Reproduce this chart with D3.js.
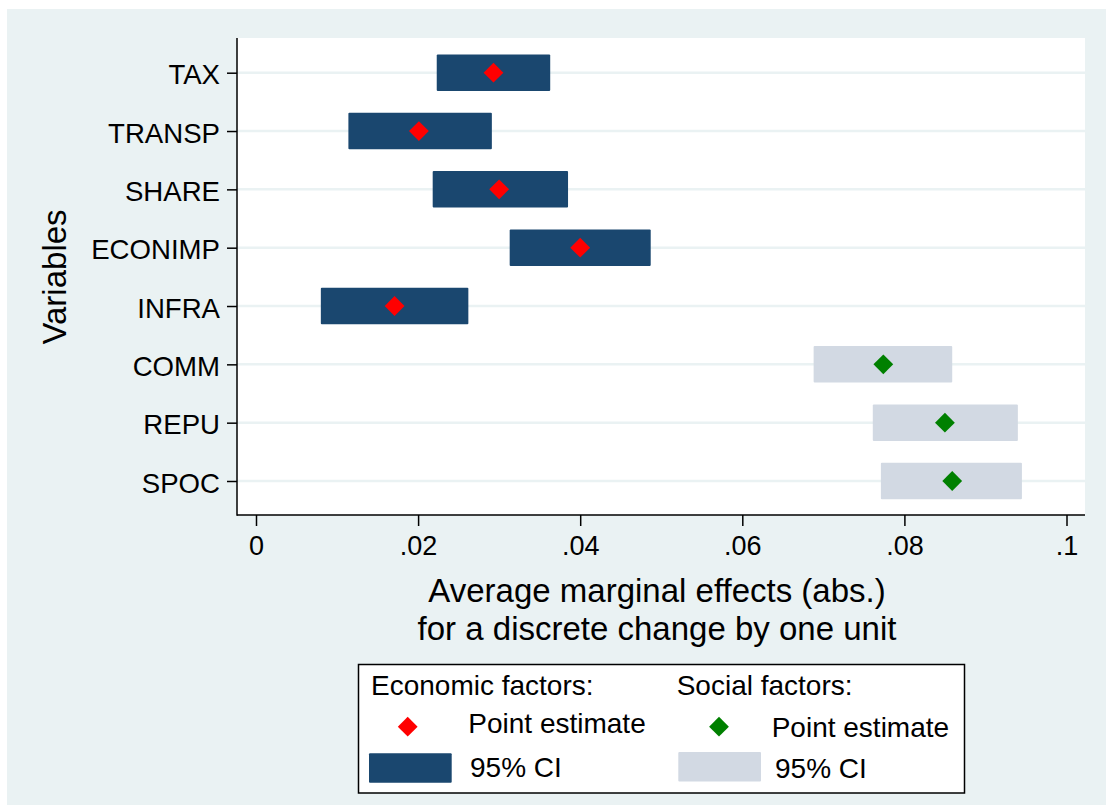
<!DOCTYPE html>
<html>
<head>
<meta charset="utf-8">
<script src="https://cdn.jsdelivr.net/npm/d3@7"></script>
<style>
  body { margin: 0; background: #fff; }
  svg text { font-family: "Liberation Sans", Arial, sans-serif; fill: #000; }
</style>
</head>
<body>
<div id="chart"></div>
<script>
// variables, top to bottom
const categories = ['TAX', 'TRANSP', 'SHARE', 'ECONIMP', 'INFRA', 'COMM', 'REPU', 'SPOC'];
const groups = ['econ', 'econ', 'econ', 'econ', 'econ', 'social', 'social', 'social'];
const estimates = [0.0293, 0.0201, 0.0300, 0.0400, 0.0171, 0.0774, 0.0850, 0.0859];
const ciLow = [0.0223, 0.0114, 0.0218, 0.0313, 0.0080, 0.0688, 0.0761, 0.0771];
const ciHigh = [0.0363, 0.0291, 0.0385, 0.0487, 0.0262, 0.0859, 0.0940, 0.0945];
const xTicks = [0, 0.02, 0.04, 0.06, 0.08, 0.1];
const xTickLabels = ['0', '.02', '.04', '.06', '.08', '.1'];
const xTitle = ['Average marginal effects (abs.)', 'for a discrete change by one unit'];

const bgColor = '#eaf2f3',
    gridColor = '#eaf2f3',
    econBar = '#1a476f',
    socialBar = '#d2d9e3',
    econPoint = '#ff0000',
    socialPoint = '#008000';

const width = 1106, height = 805;
const plot = { left: 237, right: 1085, top: 38, bottom: 515 };

const svg = d3.select('#chart').append('svg')
    .attr('width', width)
    .attr('height', height);

// outer background
svg.append('rect')
    .attr('x', 7).attr('y', 9)
    .attr('width', width - 7).attr('height', height - 9)
    .attr('fill', bgColor);

// plot region
svg.append('rect')
    .attr('x', plot.left).attr('y', plot.top)
    .attr('width', plot.right - plot.left).attr('height', plot.bottom - plot.top)
    .attr('fill', '#fff');

const x = d3.scaleLinear().domain([0, 0.1]).range([256, 1066.5]);
const y = d3.scalePoint().domain(categories).range([72.7, 481]);

const rows = categories.map((c, i) => ({
    name: c, group: groups[i], est: estimates[i], lo: ciLow[i], hi: ciHigh[i]
}));

// gridlines
svg.append('g').selectAll('line')
    .data(categories)
    .enter().append('line')
    .attr('x1', plot.left).attr('x2', plot.right)
    .attr('y1', d => y(d)).attr('y2', d => y(d))
    .attr('stroke', gridColor)
    .attr('stroke-width', 2.5);

const barH = 36.5;
const diamond = d3.symbol().type(d3.symbolDiamond2).size(250);

// CI bars
svg.append('g').selectAll('rect')
    .data(rows)
    .enter().append('rect')
    .attr('x', d => x(d.lo))
    .attr('y', d => y(d.name) - barH / 2)
    .attr('width', d => x(d.hi) - x(d.lo))
    .attr('height', barH)
    .attr('rx', 1)
    .attr('fill', d => d.group === 'econ' ? econBar : socialBar);

// point estimates
svg.append('g').selectAll('path')
    .data(rows)
    .enter().append('path')
    .attr('d', diamond)
    .attr('transform', d => 'translate(' + x(d.est) + ',' + y(d.name) + ')')
    .attr('fill', d => d.group === 'econ' ? econPoint : socialPoint);

// y axis
const yAxis = svg.append('g')
    .attr('transform', 'translate(' + plot.left + ',0)')
    .call(d3.axisLeft(y).tickSize(10).tickSizeOuter(0).tickPadding(7));
yAxis.select('.domain').remove();
yAxis.selectAll('line').attr('stroke', '#000').attr('stroke-width', 1.5);
yAxis.selectAll('text')
    .attr('font-size', 27.6)
    .attr('font-family', '"Liberation Sans", Arial, sans-serif')
    .attr('dy', '0.4em');

svg.append('line')
    .attr('x1', plot.left).attr('x2', plot.left)
    .attr('y1', plot.top).attr('y2', plot.bottom + 0.75)
    .attr('stroke', '#000').attr('stroke-width', 1.5);

// x axis
const xAxis = svg.append('g')
    .attr('transform', 'translate(0,' + plot.bottom + ')')
    .call(d3.axisBottom(x).tickValues(xTicks)
        .tickFormat((d, i) => xTickLabels[i])
        .tickSize(11).tickSizeOuter(0).tickPadding(10));
xAxis.select('.domain').remove();
xAxis.selectAll('line').attr('stroke', '#000').attr('stroke-width', 1.5);
xAxis.selectAll('text')
    .attr('font-size', 27)
    .attr('font-family', '"Liberation Sans", Arial, sans-serif');

svg.append('line')
    .attr('x1', plot.left).attr('x2', plot.right)
    .attr('y1', plot.bottom).attr('y2', plot.bottom)
    .attr('stroke', '#000').attr('stroke-width', 1.5);

// axis titles
svg.append('text')
    .attr('transform', 'translate(66,277) rotate(-90)')
    .attr('text-anchor', 'middle')
    .attr('font-size', 33)
    .text('Variables');

xTitle.forEach((line, i) => {
    svg.append('text')
        .attr('x', 657)
        .attr('y', 602 + i * 37.5)
        .attr('text-anchor', 'middle')
        .attr('font-size', 33)
        .text(line);
});

// legend
const legend = svg.append('g');
legend.append('rect')
    .attr('x', 358.5).attr('y', 664.5)
    .attr('width', 606).attr('height', 128.5)
    .attr('fill', '#fff')
    .attr('stroke', '#000').attr('stroke-width', 1.5);

const legendCols = [
    { title: 'Economic factors:', tx: 371, ty: 695, px: 407.7, py: 726.7, ptx: 468.3, pty: 733,
      rx: 369, ry: 753.3, ctx: 470, cty: 777, point: econPoint, bar: econBar },
    { title: 'Social factors:', tx: 676.7, ty: 695, px: 719, py: 726.7, ptx: 771.7, pty: 737,
      rx: 678.3, ry: 752, ctx: 775, cty: 778, point: socialPoint, bar: socialBar }
];

legendCols.forEach(c => {
    legend.append('text').attr('x', c.tx).attr('y', c.ty)
        .attr('font-size', 28).text(c.title);
    legend.append('path').attr('d', diamond)
        .attr('transform', 'translate(' + c.px + ',' + c.py + ')')
        .attr('fill', c.point);
    legend.append('text').attr('x', c.ptx).attr('y', c.pty)
        .attr('font-size', 28).text('Point estimate');
    legend.append('rect').attr('x', c.rx).attr('y', c.ry)
        .attr('width', 82.7).attr('height', 29.5)
        .attr('rx', 1)
        .attr('fill', c.bar);
    legend.append('text').attr('x', c.ctx).attr('y', c.cty)
        .attr('font-size', 28).text('95% CI');
});
</script>
</body>
</html>
